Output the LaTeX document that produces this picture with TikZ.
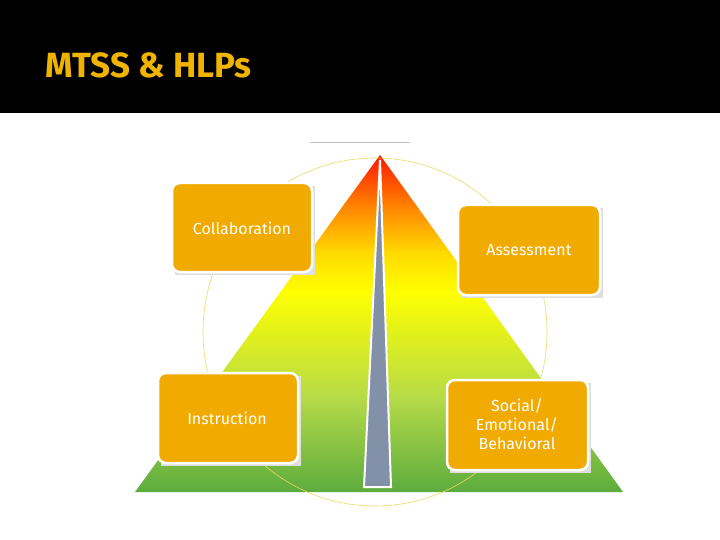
\documentclass[tikz,border=0pt]{standalone}
\usepackage{fontspec}
\setmainfont{Fira Sans}
\begin{document}
\begin{tikzpicture}[x=1pt,y=-1pt,
  lbl/.style={text=white,font=\fontsize{16}{19}\selectfont,align=center}]
\definecolor{boxc}{HTML}{F0AA00}
\definecolor{titlec}{HTML}{F0B400}
\definecolor{lg}{HTML}{B4DA48}
\definecolor{dg}{HTML}{5AAA3E}
\definecolor{wedge}{HTML}{8290A8}
\useasboundingbox (0,0) rectangle (720,540);
\fill[white] (0,0) rectangle (720,540);
\fill[black] (0,0) rectangle (720,113);
\node[anchor=west,text=titlec,font=\fontsize{35}{40}\selectfont\bfseries] (title) at (42,65) {MTSS \& HLPs};
\draw[gray!50,line width=0.6pt] (310,142) coordinate (la) -- (410,142) coordinate (lb);
% pyramid
\begin{scope}
\clip (380,155) -- (623,492) -- (135,492) -- cycle;
\shade[top color=red!90!orange,bottom color=orange] (100,150) rectangle (660,205);
\shade[top color=orange,bottom color=yellow!70!orange] (100,204) rectangle (660,252);
\shade[top color=yellow!70!orange,bottom color=yellow] (100,251) rectangle (660,292);
\shade[top color=yellow,bottom color=lg] (100,291) rectangle (660,400);
\shade[top color=lg,bottom color=dg] (100,399) rectangle (660,495);
\end{scope}
% circle
\draw[yellow!60!brown!70!white,line width=0.6pt] (375,332) ellipse (172 and 174);
% wedge
\draw[white,line width=2pt,fill=wedge] (380,160) -- (391,487) -- (364,487) -- cycle;
% boxes
\fill[gray!25] (175,186) rectangle +(140,89);
\draw[white,line width=2.5pt,fill=boxc,rounded corners=8pt] (172,183) rectangle (312,272);
\fill[gray!25] (461,208) rectangle +(142,90);
\draw[white,line width=2.5pt,fill=boxc,rounded corners=8pt] (458,205) rectangle (600,295);
\fill[gray!25] (161,376) rectangle +(140,90);
\draw[white,line width=2.5pt,fill=boxc,rounded corners=8pt] (158,373) rectangle (298,463);
\fill[gray!25] (450,383) rectangle +(141,90);
\draw[white,line width=2.5pt,fill=boxc,rounded corners=8pt] (447,380) rectangle (588,470);
\node[lbl] (col) at (242,228) {Collaboration};
\node[lbl] (ass) at (529,250) {Assessment};
\node[lbl] (ins) at (227,418) {Instruction};
\node[lbl] (soc) at (517,424) {Social/\\Emotional/\\Behavioral};
\end{tikzpicture}
\end{document}
